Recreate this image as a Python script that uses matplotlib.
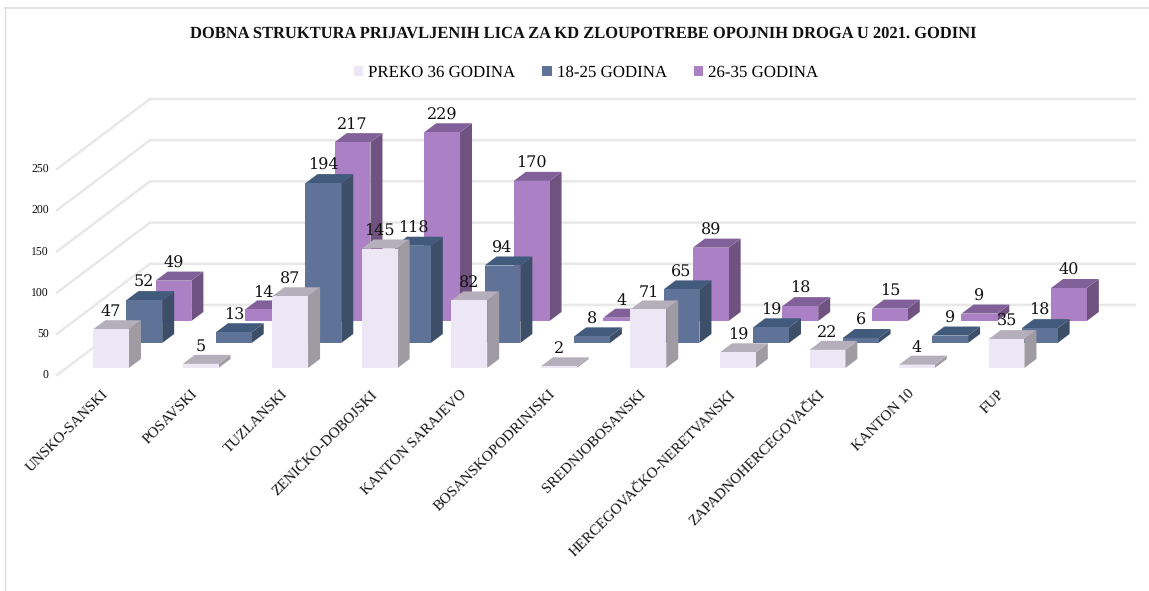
import matplotlib
matplotlib.use("Agg")
import matplotlib.pyplot as plt
from matplotlib.patches import Polygon, Patch

# Podaci
kategorije = ["UNSKO-SANSKI", "POSAVSKI", "TUZLANSKI", "ZENIČKO-DOBOJSKI", "KANTON SARAJEVO",
              "BOSANSKOPODRINJSKI", "SREDNJOBOSANSKI", "HERCEGOVAČKO-NERETVANSKI",
              "ZAPADNOHERCEGOVAČKI", "KANTON 10", "FUP"]
preko_36 = [47, 5, 87, 145, 82, 2, 71, 19, 22, 4, 35]
od_18_25 = [52, 13, 194, 118, 94, 8, 65, 19, 6, 9, 18]
od_26_35 = [49, 14, 217, 229, 170, 4, 89, 18, 15, 9, 40]
y_ticks = [0, 50, 100, 150, 200, 250]

plt.rcParams["font.family"] = ["Liberation Serif", "DejaVu Serif"]
plt.rcParams["text.hinting"] = "no_hinting"

W, H = 1149, 591
fig = plt.figure(figsize=(W / 100, H / 100), dpi=100)
ax = fig.add_axes([57 / W, 1 - 375 / H, (1042 - 57) / W, (375 - 169) / H])
ax.set_xlim(-0.5, 10.5)
ax.set_ylim(0, 250)

# kosa projekcija: dubina d (0 = prednja strana, 1 = zadnji zid)
DX = 1.0385
DY = 85.0
SIRINA = 0.40
DUB_STUBA = 0.129


def proj(x, v, d):
    return (x + d * DX, v + d * DY)


# zidovi i mreza
for v in y_ticks:
    a = proj(-0.5, v, 0)
    b = proj(-0.5, v, 1)
    c = proj(10.5, v, 1)
    ax.plot([a[0], b[0], c[0]], [a[1], b[1], c[1]], color="#E8E8E8", lw=1.8,
            clip_on=False, zorder=1, solid_joinstyle="miter")


def stub(i, v, d, boje, z):
    lice, vrh, bok = boje
    x0 = i - SIRINA / 2
    x1 = i + SIRINA / 2
    d2 = d + DUB_STUBA
    front = [proj(x0, 0, d), proj(x1, 0, d), proj(x1, v, d), proj(x0, v, d)]
    top = [proj(x0, v, d), proj(x1, v, d), proj(x1, v, d2), proj(x0, v, d2)]
    side = [proj(x1, 0, d), proj(x1, 0, d2), proj(x1, v, d2), proj(x1, v, d)]
    ax.add_patch(Polygon(side, fc=bok, ec="none", clip_on=False, zorder=z))
    ax.add_patch(Polygon(top, fc=vrh, ec="none", clip_on=False, zorder=z))
    ax.add_patch(Polygon(front, fc=lice, ec="none", clip_on=False, zorder=z))


serije = [
    (od_26_35, 0.771, ("#AB80C4", "#82619A", "#6F5280"), 2),
    (od_18_25, 0.457, ("#5F7399", "#425A7C", "#3C4E68"), 3),
    (preko_36, 0.100, ("#EDE6F4", "#B5AEBB", "#A09BA3"), 4),
]
for vrijednosti, d, boje, z in serije:
    for i, v in enumerate(vrijednosti):
        stub(i, v, d, boje, z)

# oznake vrijednosti
for vrijednosti, d, boje, z in serije:
    for i, v in enumerate(vrijednosti):
        ax.annotate(str(v), proj(i, v, d), xytext=(0, 12.5), textcoords="offset points",
                    ha="center", va="center", fontsize=11.5, family="DejaVu Serif",
                    color="#111111", zorder=10, annotation_clip=False)

# ose
for s in ax.spines.values():
    s.set_visible(False)
ax.patch.set_visible(False)
ax.set_yticks(y_ticks)
ax.set_yticklabels([str(t) for t in y_ticks], fontsize=8.5, color="#111111")
ax.set_xticks(range(len(kategorije)))
ax.set_xticklabels(kategorije, rotation=45, ha="right", va="top", rotation_mode="anchor",
                   fontsize=10.7, color="#111111")
ax.tick_params(axis="both", length=0)
ax.tick_params(axis="y", pad=6)
ax.tick_params(axis="x", pad=9)

# naslov i legenda
fig.text(583 / W, 1 - 34 / H,
         "DOBNA STRUKTURA PRIJAVLJENIH LICA ZA KD ZLOUPOTREBE OPOJNIH DROGA U 2021. GODINI",
         ha="center", va="center", fontsize=11.9, fontweight="bold", color="#111111")
rucke = [Patch(fc="#EDE6F4", label="PREKO 36 GODINA"),
         Patch(fc="#5F7399", label="18-25 GODINA"),
         Patch(fc="#AB80C4", label="26-35 GODINA")]
fig.legend(handles=rucke, loc="center", bbox_to_anchor=(586 / W, 1 - 73 / H), ncol=3,
           frameon=False, fontsize=12.2, handlelength=0.55, handleheight=0.55,
           handletextpad=0.3, columnspacing=1.6)

# okvir slike
fig.add_artist(plt.Line2D([5 / W, 5 / W], [0, 1 - 8 / H], color="#DDDDDD", lw=1))
fig.add_artist(plt.Line2D([5 / W, 1], [1 - 8 / H, 1 - 8 / H], color="#E2E2E2", lw=1.5))

fig.savefig("out.png", dpi=100)
